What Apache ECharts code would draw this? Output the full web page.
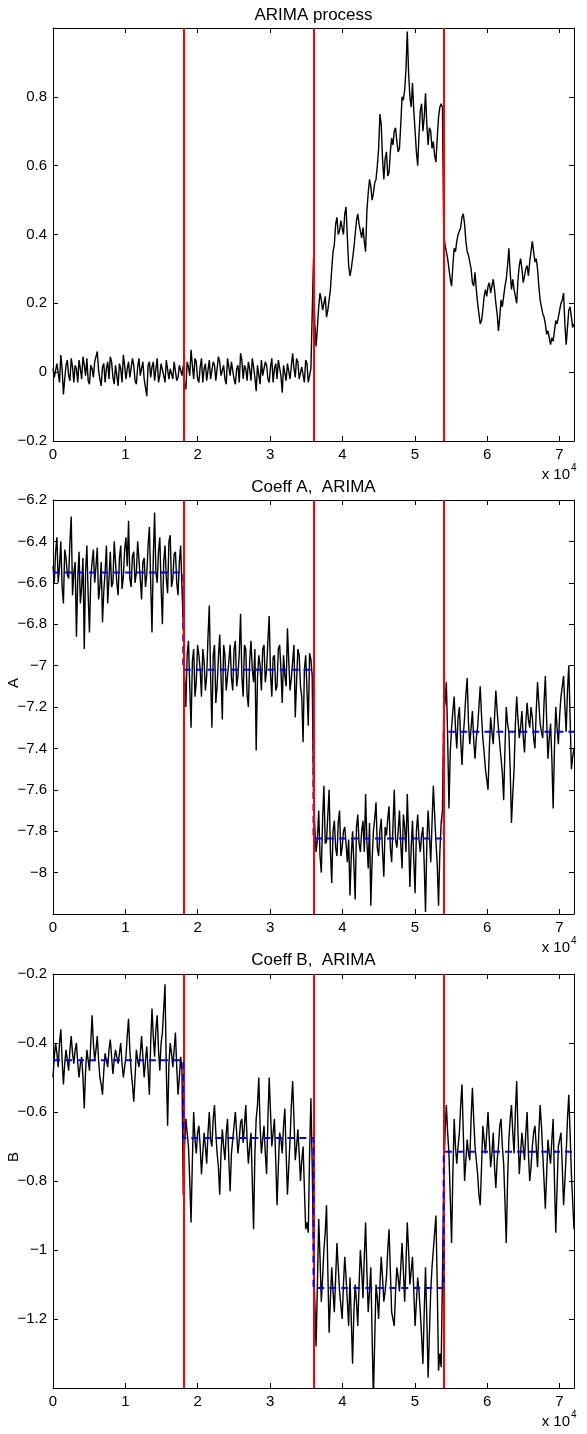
<!DOCTYPE html>
<html><head><meta charset="utf-8">
<script src="https://cdn.jsdelivr.net/npm/echarts@6/dist/echarts.min.js"></script>
<style>html,body{margin:0;padding:0;background:#fff}#c{width:587px;height:1434px}</style>
</head><body><div id="c"></div>
<script>
// ---- data ----
const sampleStep = 360;                 // spacing of the main samples (x units)
const changePoints = [18000, 36000, 54000];
const segmentEdges = [0, 18000, 36000, 54000, 72000];
const xTickLabels = ['0', '1', '2', '3', '4', '5', '6', '7'];
const panelTitles = ['ARIMA process', 'Coeff A,  ARIMA', 'Coeff B,  ARIMA'];
const yNames = ['', 'A', 'B'];

// samples at x = i*sampleStep
const arima = [
 0.01,-0.02,0.03,0.05,-0.065,0.02,-0.01,0.04,-0.03,0.01,
 0.035,-0.02,0.02,0.04,-0.035,0.01,0.03,0.06,-0.02,0.015,
 -0.03,0.03,0.045,-0.015,0.02,-0.04,0.01,0.05,-0.02,0.03,
 -0.01,0.02,-0.035,0.04,0.01,-0.02,-0.07,0.03,0.015,-0.025,
 0.04,-0.01,0.025,-0.03,0.03,0.01,-0.02,0.035,-0.015,0.005,
 0.02,-0.05,0.015,0.065,-0.02,0.03,-0.03,0.04,0.01,-0.025,
 0.035,-0.015,0.02,-0.03,0.03,0.005,-0.02,0.04,-0.01,0.025,
 -0.035,0.02,0.055,-0.02,0.01,0.03,-0.025,0.015,-0.055,0.025,
 0.035,-0.01,0.02,-0.03,0.04,0.01,-0.02,0.03,-0.06,0.015,
 0.025,-0.02,0.055,-0.015,0.03,-0.025,0.02,0.035,-0.03,0.01,
 0.33,0.075,0.19,0.21,0.2,0.16,0.21,0.3,0.37,0.45,
 0.41,0.42,0.46,0.39,0.28,0.33,0.40,0.46,0.41,0.42,
 0.35,0.52,0.54,0.52,0.56,0.65,0.72,0.56,0.64,0.58,
 0.68,0.70,0.67,0.65,0.80,0.82,0.99,0.80,0.84,0.70,
 0.60,0.76,0.70,0.81,0.66,0.70,0.67,0.61,0.74,0.78,
 0.40,0.35,0.30,0.25,0.36,0.38,0.41,0.45,0.43,0.35,
 0.32,0.26,0.29,0.20,0.14,0.18,0.24,0.25,0.23,0.27,
 0.20,0.12,0.21,0.22,0.27,0.36,0.24,0.24,0.20,0.31,
 0.30,0.28,0.31,0.32,0.38,0.32,0.30,0.21,0.17,0.14,
 0.12,0.08,0.09,0.15,0.16,0.20,0.23,0.08,0.18,0.16,
 0.14
];
// samples at x = i*sampleStep + sampleStep/2
const arimaMid = [
 -0.015,0.025,-0.03,0.01,-0.02,0.035,-0.025,0.015,0.02,-0.03,
 0.01,0.045,-0.01,-0.025,0.02,-0.015,0.035,0.005,-0.04,0.025,
 0.01,-0.02,0.03,-0.035,0.015,0.025,-0.03,0.02,0.01,-0.015,
 0.04,-0.025,0.015,-0.01,0.03,-0.045,0.02,-0.015,0.03,0.01,
 -0.03,0.025,-0.01,0.035,-0.02,0.015,0.03,-0.025,0.02,-0.01,
 -0.035,0.03,-0.01,0.02,0.04,-0.02,0.015,-0.03,0.025,0.005,
 -0.02,0.03,-0.025,0.045,-0.01,0.02,-0.035,0.015,0.03,-0.02,
 0.01,-0.03,0.035,0.02,-0.025,0.01,0.04,-0.015,0.02,-0.035,
 -0.01,0.03,-0.02,0.015,-0.03,0.025,0.035,-0.01,0.02,-0.025,
 0.03,-0.015,0.01,0.04,-0.02,0.015,-0.03,0.025,-0.01,0.005,
 0.14,0.13,0.23,0.18,0.22,0.18,0.24,0.35,0.43,0.40,
 0.44,0.40,0.48,0.31,0.30,0.36,0.44,0.43,0.39,0.38,
 0.47,0.56,0.50,0.55,0.60,0.75,0.62,0.62,0.57,0.64,
 0.66,0.71,0.64,0.72,0.79,0.88,0.87,0.77,0.76,0.64,
 0.69,0.78,0.74,0.72,0.71,0.65,0.63,0.68,0.77,0.77,
 0.37,0.33,0.27,0.31,0.35,0.40,0.42,0.46,0.38,0.34,
 0.30,0.25,0.24,0.17,0.15,0.22,0.22,0.26,0.25,0.24,
 0.17,0.16,0.19,0.25,0.31,0.29,0.27,0.22,0.27,0.33,
 0.26,0.30,0.28,0.35,0.35,0.33,0.25,0.19,0.16,0.11,
 0.10,0.10,0.12,0.14,0.18,0.21,0.14,0.13,0.19,0.13
];

const coeffA = [
 -6.52,-6.45,-6.60,-6.40,-6.70,-6.48,-6.58,-6.28,-6.55,-6.86,
 -6.45,-6.62,-6.92,-6.42,-6.84,-6.50,-6.60,-6.43,-6.62,-6.79,
 -6.55,-6.70,-6.45,-6.60,-6.50,-6.66,-6.42,-6.57,-6.38,-6.30,
 -6.62,-6.45,-6.55,-6.40,-6.68,-6.48,-6.56,-6.33,-6.84,-6.26,
 -6.60,-6.38,-6.80,-6.42,-6.65,-6.37,-6.58,-6.45,-6.66,-6.42,
 -6.80,-7.20,-6.88,-7.30,-6.92,-7.08,-6.95,-7.15,-6.98,-7.05,
 -6.71,-7.30,-6.90,-7.10,-6.85,-7.26,-6.95,-7.05,-6.90,-7.12,
 -6.88,-7.05,-6.75,-7.15,-6.92,-7.20,-6.88,-7.08,-7.41,-6.95,
 -7.12,-6.90,-7.02,-6.76,-7.15,-6.95,-7.10,-6.90,-7.18,-7.05,
 -6.82,-7.12,-6.98,-7.25,-6.92,-7.10,-7.37,-6.95,-7.29,-6.97,
 -7.62,-7.90,-7.70,-8.00,-7.58,-7.85,-7.60,-8.05,-7.75,-7.92,
 -7.70,-7.88,-7.78,-7.95,-8.11,-7.80,-8.13,-7.72,-7.90,-7.75,
 -7.62,-7.98,-8.16,-7.80,-7.66,-7.92,-7.74,-8.02,-7.82,-7.68,
 -7.95,-7.60,-7.88,-7.70,-7.98,-7.78,-7.62,-8.07,-7.75,-8.10,
 -7.72,-7.90,-7.78,-8.19,-7.70,-7.95,-7.58,-7.85,-8.16,-7.76,
 -7.22,-7.08,-7.69,-7.30,-7.15,-7.40,-7.20,-7.48,-7.25,-7.06,
 -7.38,-7.22,-7.45,-7.30,-7.10,-7.35,-7.50,-7.60,-7.25,-7.38,
 -7.12,-7.30,-7.45,-7.65,-7.20,-7.32,-7.76,-7.50,-7.15,-7.35,
 -7.22,-7.42,-7.18,-7.30,-7.25,-7.40,-7.08,-7.28,-7.35,-7.05,
 -7.45,-7.28,-7.69,-7.20,-7.38,-7.15,-7.05,-7.32,-7.00,-7.50,
 -7.40
];
const coeffAMid = [
 -6.60,-6.38,-6.52,-6.62,-6.44,-6.56,-6.40,-6.66,-6.50,-6.58,
 -6.70,-6.48,-6.55,-6.66,-6.58,-6.44,-6.52,-6.68,-6.50,-6.64,
 -6.42,-6.58,-6.62,-6.40,-6.60,-6.48,-6.63,-6.44,-6.52,-6.58,
 -6.47,-6.60,-6.40,-6.58,-6.50,-6.62,-6.42,-6.60,-6.48,-6.55,
 -6.45,-6.62,-6.50,-6.58,-6.40,-6.62,-6.46,-6.60,-6.50,-6.62,
 -7.05,-6.95,-7.10,-6.98,-7.15,-6.90,-7.02,-6.92,-7.12,-6.86,
 -7.05,-6.95,-7.18,-6.96,-7.05,-6.90,-7.12,-6.98,-7.06,-6.92,
 -7.10,-6.94,-7.05,-6.90,-7.14,-6.98,-7.02,-6.92,-7.06,-7.00,
 -6.92,-7.08,-6.88,-7.04,-6.96,-7.12,-6.92,-7.02,-6.95,-7.10,
 -6.98,-7.06,-6.90,-7.08,-6.95,-7.15,-7.02,-7.12,-6.94,-7.05,
 -7.78,-7.84,-7.92,-7.74,-7.86,-7.72,-7.90,-7.80,-7.88,-7.76,
 -7.92,-7.80,-7.86,-7.84,-7.92,-7.96,-7.78,-7.86,-7.80,-7.90,
 -7.85,-7.76,-7.94,-7.74,-7.88,-7.80,-7.90,-7.78,-7.74,-7.88,
 -7.78,-7.84,-7.80,-7.86,-7.72,-7.90,-7.82,-7.88,-7.94,-7.80,
 -7.84,-7.82,-7.96,-7.86,-7.82,-7.76,-7.72,-7.96,-7.90,-7.70,
 -7.18,-7.35,-7.42,-7.22,-7.30,-7.25,-7.36,-7.34,-7.14,-7.28,
 -7.30,-7.36,-7.35,-7.20,-7.24,-7.42,-7.55,-7.40,-7.32,-7.25,
 -7.22,-7.38,-7.52,-7.40,-7.28,-7.50,-7.62,-7.28,-7.26,-7.30,
 -7.34,-7.28,-7.26,-7.20,-7.35,-7.22,-7.18,-7.32,-7.18,-7.26,
 -7.35,-7.45,-7.40,-7.30,-7.24,-7.10,-7.20,-7.12,-7.25,-7.44
];

const coeffB = [
 -0.50,-0.40,-0.47,-0.36,-0.52,-0.42,-0.48,-0.38,-0.46,-0.40,
 -0.50,-0.44,-0.59,-0.42,-0.48,-0.32,-0.45,-0.38,-0.50,-0.55,
 -0.43,-0.47,-0.39,-0.49,-0.42,-0.46,-0.40,-0.50,-0.44,-0.33,
 -0.48,-0.57,-0.42,-0.47,-0.38,-0.50,-0.41,-0.55,-0.30,-0.44,
 -0.32,-0.48,-0.37,-0.23,-0.64,-0.40,-0.47,-0.37,-0.55,-0.44,
 -0.84,-0.62,-0.70,-0.92,-0.60,-0.72,-0.64,-0.78,-0.66,-0.75,
 -0.60,-0.70,-0.58,-0.72,-0.84,-0.65,-0.74,-0.62,-0.83,-0.68,
 -0.60,-0.72,-0.63,-0.69,-0.58,-0.75,-0.66,-0.94,-0.62,-0.50,
 -0.72,-0.64,-0.78,-0.50,-0.70,-0.62,-0.87,-0.66,-0.72,-0.59,
 -0.84,-0.68,-0.51,-0.74,-0.65,-0.80,-0.70,-0.94,-0.95,-0.56,
 -1.02,-1.28,-0.91,-1.15,-1.00,-0.87,-1.24,-1.05,-1.18,-0.98,
 -1.12,-1.20,-1.02,-1.15,-1.08,-1.33,-1.10,-1.22,-1.00,-1.14,
 -0.92,-1.18,-1.05,-1.43,-1.10,-1.20,-1.02,-1.15,-1.08,-0.94,
 -1.18,-1.22,-1.05,-1.12,-0.98,-1.15,-0.92,-1.10,-1.02,-1.22,
 -1.08,-1.18,-1.33,-1.05,-1.37,-1.12,-1.00,-0.90,-1.35,-1.34,
 -0.78,-0.58,-0.72,-0.98,-0.62,-0.75,-0.66,-0.52,-0.80,-0.68,
 -0.74,-0.53,-0.70,-0.78,-0.87,-0.64,-0.72,-0.60,-0.76,-0.66,
 -0.82,-0.70,-0.62,-0.75,-0.98,-0.68,-0.58,-0.72,-0.51,-0.78,
 -0.66,-0.74,-0.60,-0.80,-0.70,-0.64,-0.76,-0.58,-0.72,-0.88,
 -0.68,-0.75,-0.62,-0.95,-0.70,-0.66,-0.87,-0.72,-0.55,-0.78,
 -0.94
];
const coeffBMid = [
 -0.44,-0.43,-0.40,-0.45,-0.46,-0.45,-0.42,-0.43,-0.42,-0.46,
 -0.46,-0.50,-0.48,-0.45,-0.40,-0.40,-0.42,-0.45,-0.52,-0.48,
 -0.45,-0.42,-0.44,-0.45,-0.44,-0.43,-0.46,-0.47,-0.38,-0.42,
 -0.52,-0.50,-0.45,-0.43,-0.44,-0.45,-0.48,-0.40,-0.38,-0.36,
 -0.42,-0.40,-0.30,-0.48,-0.46,-0.43,-0.42,-0.47,-0.50,-0.48,
 -0.70,-0.66,-0.80,-0.74,-0.68,-0.66,-0.70,-0.72,-0.70,-0.66,
 -0.68,-0.62,-0.66,-0.76,-0.72,-0.70,-0.66,-0.74,-0.72,-0.64,
 -0.66,-0.68,-0.62,-0.64,-0.68,-0.70,-0.80,-0.72,-0.58,-0.64,
 -0.68,-0.72,-0.62,-0.60,-0.66,-0.74,-0.76,-0.68,-0.64,-0.72,
 -0.76,-0.58,-0.62,-0.70,-0.72,-0.74,-0.82,-0.92,-0.72,-0.75,
 -1.15,-1.10,-1.02,-1.08,-0.95,-1.06,-1.14,-1.12,-1.08,-1.05,
 -1.16,-1.10,-1.08,-1.22,-1.20,-1.18,-1.15,-1.10,-1.06,-1.02,
 -1.06,-1.12,-1.25,-1.26,-1.14,-1.10,-1.08,-1.12,-1.00,-1.06,
 -1.20,-1.12,-1.08,-1.05,-1.06,-1.04,-1.00,-1.06,-1.12,-1.15,
 -1.12,-1.25,-1.18,-1.20,-1.24,-1.05,-0.95,-1.10,-1.30,-1.08,
 -0.66,-0.66,-0.85,-0.78,-0.70,-0.70,-0.58,-0.66,-0.74,-0.72,
 -0.62,-0.62,-0.74,-0.84,-0.76,-0.68,-0.66,-0.68,-0.72,-0.76,
 -0.74,-0.64,-0.70,-0.86,-0.80,-0.62,-0.66,-0.60,-0.66,-0.72,
 -0.70,-0.66,-0.72,-0.76,-0.66,-0.70,-0.66,-0.64,-0.80,-0.78,
 -0.72,-0.68,-0.80,-0.82,-0.68,-0.76,-0.80,-0.62,-0.66,-0.86
];

const trueA = [-6.55, -7.02, -7.835, -7.32];
const trueB = [-0.45, -0.675, -1.11, -0.715];

const yRanges = [[-0.2, 1.0], [-8.2, -6.2], [-1.4, -0.2]];
const yInterval = 0.2;

// ---- chart ----
const FONT = '"Liberation Sans", Arial, Helvetica, sans-serif';
const TICK_FS = 15;
const panelLayout = [
  { top: 28, height: 413 },
  { top: 500, height: 414 },
  { top: 974, height: 414 }
];
const PLOT_LEFT = 53, PLOT_RIGHT = 13;

function fmtY(v) {
  const r = Math.round(v * 10) / 10;
  if (r === 0) return '0';
  return String(r).replace('-', '\u2212');
}

function buildPoints(main, mid) {
  const pts = [];
  main.forEach((v, i) => {
    pts.push([i * sampleStep, v]);
    if (i < mid.length) pts.push([i * sampleStep + sampleStep / 2, mid[i]]);
  });
  return pts;
}

const grid = panelLayout.map(p => ({ left: PLOT_LEFT, right: PLOT_RIGHT, top: p.top, height: p.height }));
const xAxis = [], yAxis = [], series = [];
const lineBase = { color: '#000', width: 1 };

panelLayout.forEach((p, gi) => {
  const common = {
    type: 'value', gridIndex: gi, min: 0, max: 72000, interval: 10000,
    axisLine: { show: true, onZero: false, lineStyle: lineBase },
    axisTick: { show: true, inside: true, length: 5, lineStyle: lineBase },
    splitLine: { show: false }
  };
  xAxis.push(Object.assign({}, common, {
    position: 'bottom',
    axisLabel: {
      color: '#000', fontFamily: FONT, fontSize: TICK_FS, margin: 6,
      showMaxLabel: false,
      formatter: v => (v % 10000 === 0 ? xTickLabels[v / 10000] : '')
    }
  }));
  xAxis.push(Object.assign({}, common, { position: 'top', axisLabel: { show: false } }));

  const [ymin, ymax] = yRanges[gi];
  const ycommon = {
    type: 'value', gridIndex: gi, min: ymin, max: ymax, interval: yInterval,
    axisLine: { show: true, onZero: false, lineStyle: lineBase },
    axisTick: { show: true, inside: true, length: 5, lineStyle: lineBase },
    splitLine: { show: false }
  };
  yAxis.push(Object.assign({}, ycommon, {
    position: 'left',
    axisLabel: {
      color: '#000', fontFamily: FONT, fontSize: TICK_FS, margin: 6,
      showMinLabel: gi === 0, showMaxLabel: gi !== 0,
      formatter: fmtY
    }
  }));
  yAxis.push(Object.assign({}, ycommon, { position: 'right', axisLabel: { show: false } }));
});

const signals = [[arima, arimaMid], [coeffA, coeffAMid], [coeffB, coeffBMid]];
const trues = [null, trueA, trueB];

signals.forEach(([main, mid], gi) => {
  series.push({
    type: 'line', xAxisIndex: 2 * gi, yAxisIndex: 2 * gi,
    data: buildPoints(main, mid),
    symbol: 'none', showSymbol: false, animation: false, z: 2,
    lineStyle: { color: '#000', width: 1.4 },
    markLine: {
      silent: true, animation: false, symbol: ['none', 'none'],
      label: { show: false }, z: 5,
      lineStyle: { color: '#ff0000', width: 2, type: 'solid' },
      data: changePoints.map(x => ({ xAxis: x }))
    }
  });
  const lv = trues[gi];
  if (lv) {
    const stepData = [];
    lv.forEach((v, k) => { stepData.push([segmentEdges[k], v]); stepData.push([segmentEdges[k + 1], v]); });
    series.push({
      type: 'line', xAxisIndex: 2 * gi, yAxisIndex: 2 * gi,
      data: stepData, symbol: 'none', showSymbol: false, animation: false,
      z: gi === 2 ? 6 : 3,
      lineStyle: { color: '#0000ff', width: 2, type: [7, 5] }
    });
  }
});

const graphic = [];
const titleY = [15, 487, 960];
panelLayout.forEach((p, gi) => {
  graphic.push({
    type: 'text', x: PLOT_LEFT + (587 - PLOT_LEFT - PLOT_RIGHT) / 2, y: titleY[gi],
    style: { text: panelTitles[gi], fontFamily: FONT, fontSize: 17, fill: '#000', align: 'center', verticalAlign: 'middle' }
  });
  const by = p.top + p.height;
  graphic.push({
    type: 'text', x: 570, y: by + 34,
    style: { text: 'x 10', fontFamily: FONT, fontSize: TICK_FS, fill: '#000', align: 'right', verticalAlign: 'middle' }
  });
  graphic.push({
    type: 'text', x: 571, y: by + 27,
    style: { text: '4', fontFamily: FONT, fontSize: 10, fill: '#000', align: 'left', verticalAlign: 'middle' }
  });
  if (yNames[gi]) {
    graphic.push({
      type: 'text', x: 14, y: p.top + p.height / 2 - 24, rotation: Math.PI / 2,
      style: { text: yNames[gi], fontFamily: FONT, fontSize: TICK_FS, fill: '#000', align: 'center', verticalAlign: 'middle' }
    });
  }
});

const chart = echarts.init(document.getElementById('c'), null, { renderer: 'canvas' });
chart.setOption({
  backgroundColor: '#fff',
  animation: false,
  grid, xAxis, yAxis, series, graphic
});
</script>
</body></html>
